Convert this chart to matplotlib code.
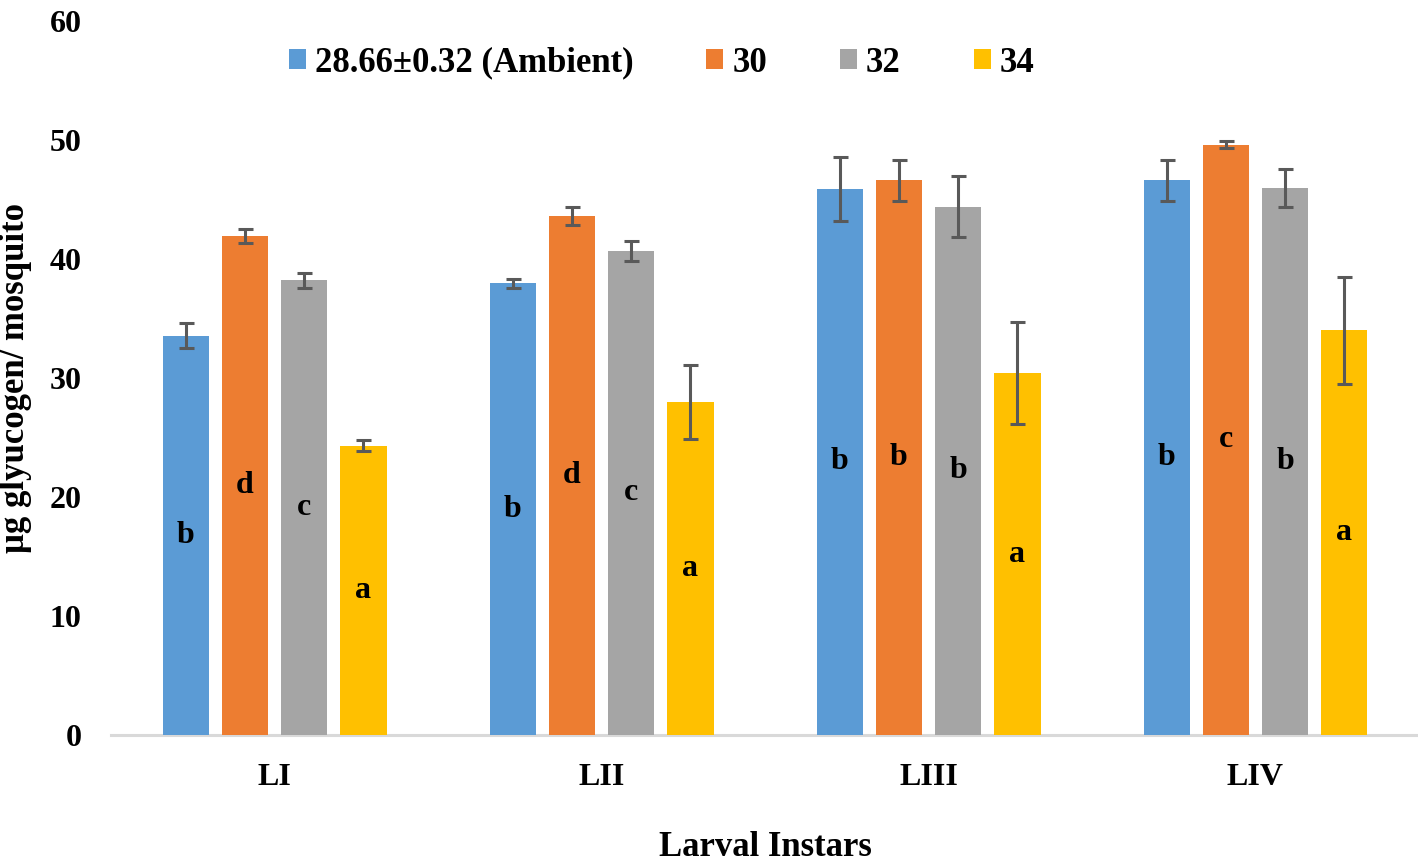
import matplotlib
matplotlib.use("Agg")
import matplotlib.pyplot as plt
import numpy as np

plt.rcParams['font.family'] = ['Liberation Serif', 'DejaVu Serif']
plt.rcParams['font.weight'] = 'bold'

categories = ["LI", "LII", "LIII", "LIV"]
series_names = ["28.66±0.32 (Ambient)", "30", "32", "34"]
colors = ["#5B9BD5", "#ED7D31", "#A5A5A5", "#FFC000"]

ambient = [33.55, 37.95, 45.9, 46.6]
t30 = [41.9, 43.6, 46.6, 49.6]
t32 = [38.2, 40.7, 44.4, 46.0]
t34 = [24.3, 28.0, 30.4, 34.0]

err_ambient = [1.05, 0.4, 2.7, 1.7]
err_30 = [0.58, 0.75, 1.7, 0.3]
err_32 = [0.65, 0.85, 2.55, 1.6]
err_34 = [0.45, 3.1, 4.3, 4.5]

letters_ambient = ["b", "b", "b", "b"]
letters_30 = ["d", "d", "b", "c"]
letters_32 = ["c", "c", "b", "b"]
letters_34 = ["a", "a", "a", "a"]

values = [ambient, t30, t32, t34]
errors = [err_ambient, err_30, err_32, err_34]
letters = [letters_ambient, letters_30, letters_32, letters_34]

fig = plt.figure(figsize=(14.18, 8.64), dpi=100)
ax = fig.add_axes([0.0783, 0.1493, 0.9224, 0.8264])

x = np.arange(len(categories))
width = 0.142
step = 0.181
fs = 23
fs_big = 25

for i, (vals, errs, labs, name, col) in enumerate(zip(values, errors, letters, series_names, colors)):
    pos = x + (i - 1.5) * step
    ax.bar(pos, vals, width=width, color=col, label=name, zorder=2)
    ax.errorbar(pos, vals, yerr=errs, fmt='none', ecolor='#595959',
                elinewidth=2.2, capsize=5.4, capthick=2.2, zorder=3)
    for p, v, l in zip(pos, vals, labs):
        ax.text(p, v / 2, l, ha='center', va='center', fontsize=fs,
                fontweight='bold', color='black', zorder=4)

ax.set_xlim(-0.5, 3.5)
ax.set_ylim(0, 60)
ax.set_yticks(np.arange(0, 61, 10))
ax.set_xticks(x)
ax.set_xticklabels(categories)
ax.tick_params(axis='both', length=0, labelsize=fs)
ax.tick_params(axis='y', pad=21)
ax.tick_params(axis='x', pad=20)
for lab in ax.get_xticklabels() + ax.get_yticklabels():
    lab.set_fontweight('bold')

for s in ['top', 'right', 'left']:
    ax.spines[s].set_visible(False)
ax.spines['bottom'].set_color('#D9D9D9')
ax.spines['bottom'].set_linewidth(2.2)
ax.spines['bottom'].set_zorder(1)

ax.set_ylabel("μg glyucogen/ mosquito", fontsize=fs_big, fontweight='bold', labelpad=13)
ax.set_xlabel("Larval Instars", fontsize=fs_big, fontweight='bold', labelpad=28)

fig.legend(loc='center', bbox_to_anchor=(0.4665, 0.927), ncol=4, frameon=False,
           handlelength=0.49, handleheight=0.49, handletextpad=0.26,
           columnspacing=2.1, prop={'weight': 'bold', 'size': fs_big})

fig.savefig("out.png", dpi=100)
